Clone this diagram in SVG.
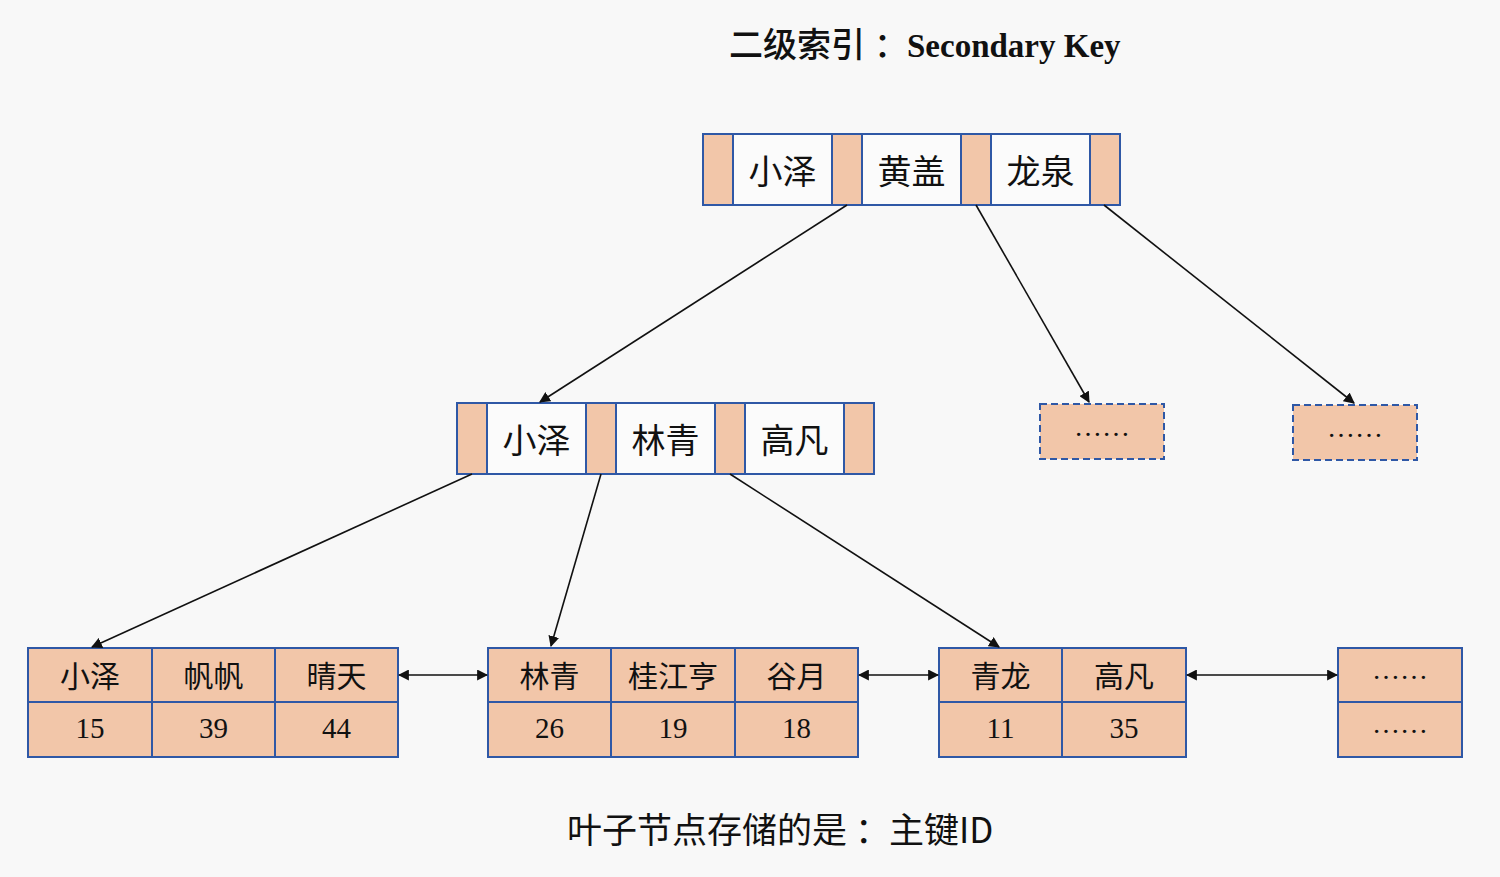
<svg xmlns="http://www.w3.org/2000/svg" width="1500" height="877" viewBox="0 0 1500 877">
<defs>
<style>
.bg{fill:#f8f8f8}
.p{fill:#f2c6a9;stroke:#2f58a6;stroke-width:2}
.k{fill:#fbfbfb;stroke:#2f58a6;stroke-width:2}
.d{fill:#f2c6a9;stroke:#2f58a6;stroke-width:2;stroke-dasharray:7 4}
.kt{font-family:"Noto Sans CJK SC","Liberation Sans",sans-serif;font-size:34px;fill:#111;text-anchor:middle;dominant-baseline:central}
.lt{font-family:"Noto Sans CJK SC","Liberation Sans",sans-serif;font-size:30px;fill:#111;text-anchor:middle;dominant-baseline:central}
.nt{font-family:"Liberation Serif","Noto Sans CJK SC",serif;font-size:29px;fill:#111;text-anchor:middle}
.dots{font-family:"Liberation Serif",serif;font-size:28px;fill:#111;text-anchor:middle}
.c{stroke:#111;stroke-width:1.6;fill:none}
</style>
<marker id="ah" viewBox="0 0 10 10" refX="9" refY="5" markerWidth="11" markerHeight="11" markerUnits="userSpaceOnUse" orient="auto-start-reverse">
<path d="M0,0 L10,5 L0,10 z" fill="#111"/>
</marker>
</defs>
<rect class="bg" x="0" y="0" width="1500" height="877"/>

<text y="57" style="font-family:'Noto Sans CJK SC','Liberation Sans',sans-serif;font-size:34px;font-weight:500;fill:#111"><tspan x="729">二级索引</tspan><tspan x="874">：</tspan><tspan x="907" style="font-family:'Liberation Serif',serif;font-size:33px;font-weight:bold">Secondary Key</tspan></text>

<g id="root">
<rect class="p" x="703" y="134" width="30" height="71"/>
<rect class="k" x="733" y="134" width="99" height="71"/>
<rect class="p" x="832" y="134" width="30" height="71"/>
<rect class="k" x="862" y="134" width="99" height="71"/>
<rect class="p" x="961" y="134" width="30" height="71"/>
<rect class="k" x="991" y="134" width="99" height="71"/>
<rect class="p" x="1090" y="134" width="30" height="71"/>
<text class="kt" x="782.5" y="169">小泽</text>
<text class="kt" x="911.5" y="169">黄盖</text>
<text class="kt" x="1040.5" y="169">龙泉</text>
</g>

<g id="mid">
<rect class="p" x="457" y="403" width="30" height="71"/>
<rect class="k" x="487" y="403" width="99" height="71"/>
<rect class="p" x="586" y="403" width="30" height="71"/>
<rect class="k" x="616" y="403" width="99" height="71"/>
<rect class="p" x="715" y="403" width="30" height="71"/>
<rect class="k" x="745" y="403" width="99" height="71"/>
<rect class="p" x="844" y="403" width="30" height="71"/>
<text class="kt" x="536.5" y="438">小泽</text>
<text class="kt" x="665.5" y="438">林青</text>
<text class="kt" x="794.5" y="438">高凡</text>
</g>

<g id="more1">
<rect class="d" x="1040" y="404" width="124" height="55"/>
<text class="dots" x="1102" y="436">……</text>
</g>
<g id="more2">
<rect class="d" x="1293" y="405" width="124" height="55"/>
<text class="dots" x="1355" y="437">……</text>
</g>

<g id="leaf1">
<rect class="p" x="28" y="648" width="124" height="54"/>
<rect class="p" x="152" y="648" width="123" height="54"/>
<rect class="p" x="275" y="648" width="123" height="54"/>
<rect class="p" x="28" y="702" width="124" height="55"/>
<rect class="p" x="152" y="702" width="123" height="55"/>
<rect class="p" x="275" y="702" width="123" height="55"/>
<text class="lt" x="90" y="674">小泽</text>
<text class="lt" x="213.5" y="674">帆帆</text>
<text class="lt" x="336.5" y="674">晴天</text>
<text class="nt" x="90" y="738">15</text>
<text class="nt" x="213.5" y="738">39</text>
<text class="nt" x="336.5" y="738">44</text>
</g>

<g id="leaf2">
<rect class="p" x="488" y="648" width="123" height="54"/>
<rect class="p" x="611" y="648" width="124" height="54"/>
<rect class="p" x="735" y="648" width="123" height="54"/>
<rect class="p" x="488" y="702" width="123" height="55"/>
<rect class="p" x="611" y="702" width="124" height="55"/>
<rect class="p" x="735" y="702" width="123" height="55"/>
<text class="lt" x="549.5" y="674">林青</text>
<text class="lt" x="673" y="674">桂江亨</text>
<text class="lt" x="796.5" y="674">谷月</text>
<text class="nt" x="549.5" y="738">26</text>
<text class="nt" x="673" y="738">19</text>
<text class="nt" x="796.5" y="738">18</text>
</g>

<g id="leaf3">
<rect class="p" x="939" y="648" width="123" height="54"/>
<rect class="p" x="1062" y="648" width="124" height="54"/>
<rect class="p" x="939" y="702" width="123" height="55"/>
<rect class="p" x="1062" y="702" width="124" height="55"/>
<text class="lt" x="1000.5" y="674">青龙</text>
<text class="lt" x="1124" y="674">高凡</text>
<text class="nt" x="1000.5" y="738">11</text>
<text class="nt" x="1124" y="738">35</text>
</g>

<g id="leaf4">
<rect class="p" x="1338" y="648" width="124" height="54"/>
<rect class="p" x="1338" y="702" width="124" height="55"/>
<text class="dots" x="1400" y="679">……</text>
<text class="dots" x="1400" y="733">……</text>
</g>

<g id="connectors">
<line class="c" x1="847" y1="205" x2="540" y2="402" marker-end="url(#ah)"/>
<line class="c" x1="976" y1="205" x2="1089" y2="402" marker-end="url(#ah)"/>
<line class="c" x1="1104" y1="205" x2="1354" y2="403" marker-end="url(#ah)"/>
<line class="c" x1="472" y1="474" x2="92" y2="647" marker-end="url(#ah)"/>
<line class="c" x1="601" y1="474" x2="551" y2="646" marker-end="url(#ah)"/>
<line class="c" x1="730" y1="474" x2="999" y2="647" marker-end="url(#ah)"/>
<line class="c" x1="399" y1="675" x2="487" y2="675" marker-start="url(#ah)" marker-end="url(#ah)"/>
<line class="c" x1="859" y1="675" x2="938" y2="675" marker-start="url(#ah)" marker-end="url(#ah)"/>
<line class="c" x1="1187" y1="675" x2="1337" y2="675" marker-start="url(#ah)" marker-end="url(#ah)"/>
</g>

<text y="843" style="font-family:'Noto Sans CJK SC','Liberation Sans',sans-serif;font-size:35px;fill:#111"><tspan x="567">叶子节点存储的是</tspan><tspan x="855">：</tspan><tspan x="889">主键ID</tspan></text>
</svg>
